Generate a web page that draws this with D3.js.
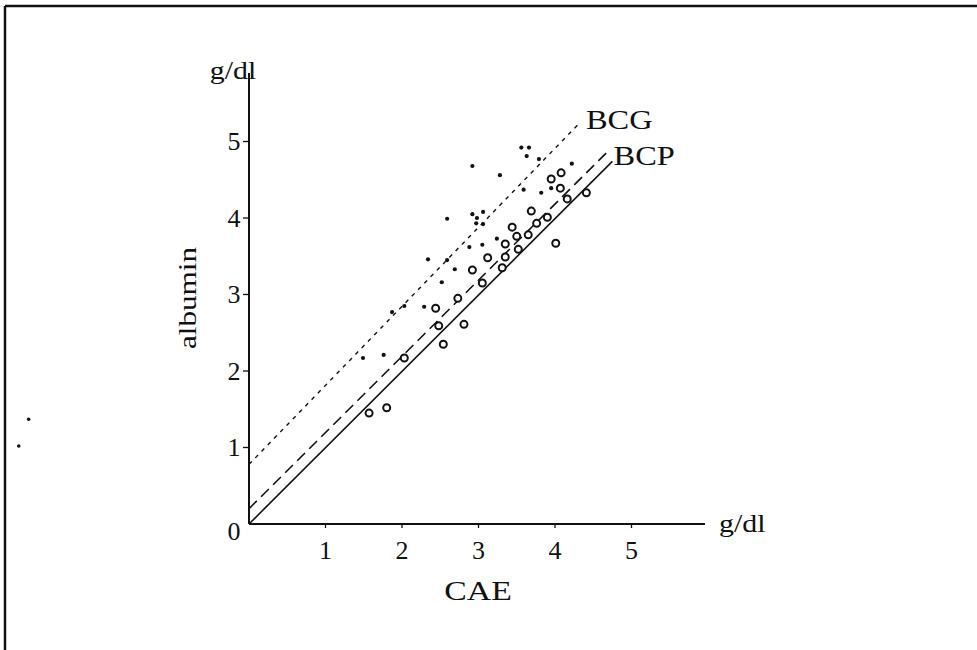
<!DOCTYPE html>
<html>
<head>
<meta charset="utf-8">
<script src="https://cdn.jsdelivr.net/npm/d3@7"></script>
<style>
  body { margin: 0; background: #fff; }
  text { font-family: "Liberation Serif", "DejaVu Serif", serif; fill: #111; }
</style>
</head>
<body>
<svg id="chart" width="977" height="650"></svg>
<script>
// albumin by BCG (filled dots) and BCP (open circles) against CAE, g/dl
var bcgX = [1.49, 1.76, 1.87, 2.03, 2.29, 2.34, 2.59, 2.69, 2.52, 2.59, 2.88, 3.05, 2.92, 3.06,
            2.98, 2.97, 3.06, 2.92, 3.28, 3.24, 3.56, 3.66, 3.63, 3.79, 4.22, 3.59, 3.82, 3.95];
var bcgY = [2.17, 2.21, 2.77, 2.85, 2.84, 3.46, 3.45, 3.33, 3.16, 3.99, 3.62, 3.65, 4.05, 4.08,
            4.00, 3.93, 3.92, 4.68, 4.56, 3.73, 4.92, 4.92, 4.81, 4.77, 4.71, 4.37, 4.33, 4.39];

var bcpX = [1.57, 1.80, 2.03, 2.54, 2.48, 2.44, 2.81, 2.73, 3.05, 2.92, 3.12, 3.31, 3.35, 3.35,
            3.52, 3.50, 3.44, 3.65, 3.69, 3.76, 3.90, 4.01, 4.16, 4.41, 4.07, 3.95, 4.08];
var bcpY = [1.45, 1.52, 2.17, 2.35, 2.59, 2.82, 2.61, 2.95, 3.15, 3.32, 3.48, 3.35, 3.49, 3.66,
            3.59, 3.76, 3.88, 3.78, 4.09, 3.93, 4.01, 3.67, 4.25, 4.33, 4.39, 4.51, 4.59];

// regression lines: [x0, y0, x1, y1]
var lineIdentity = [0, 0, 4.75, 4.74];
var lineBCP = [0, 0.2, 4.7, 4.88];
var lineBCG = [0, 0.78, 4.3, 5.22];

var ticks = [1, 2, 3, 4, 5];
var yTicks = [0, 1, 2, 3, 4, 5];

// specks on the scanned page, in the same units
var specksX = [-2.88, -3.01];
var specksY = [1.37, 1.02];

var svg = d3.select('#chart');

// scan frame (top and left edges)
svg.append('line').attr('x1', 5).attr('y1', 6).attr('x2', 977).attr('y2', 6)
  .attr('stroke', '#111').attr('stroke-width', 2.5);
svg.append('line').attr('x1', 5).attr('y1', 6).attr('x2', 5).attr('y2', 650)
  .attr('stroke', '#111').attr('stroke-width', 2.5);

var x = d3.scaleLinear().domain([0, 5]).range([249, 631.5]);
var y = d3.scaleLinear().domain([0, 5]).range([524, 141.5]);

var g = svg.append('g');

// text centred on (cx, cy), a little wider than the font as in the scan
function label(txt, cx, cy, size, anchor, sx, rot) {
  var t = g.append('text')
    .attr('transform', 'translate(' + cx + ',' + cy + ')' + (rot ? ' rotate(' + rot + ')' : '') + ' scale(' + sx + ',1)')
    .attr('y', size * 0.33)
    .attr('text-anchor', anchor)
    .style('font-size', size + 'px')
    .text(txt);
  return t;
}

// x axis
g.append('line').attr('x1', x(0)).attr('y1', y(0)).attr('x2', 705).attr('y2', y(0))
  .attr('stroke', '#111').attr('stroke-width', 2);
g.selectAll('.xt').data(ticks).enter().append('line')
  .attr('x1', function (d) { return x(d); }).attr('x2', function (d) { return x(d); })
  .attr('y1', y(0)).attr('y2', y(0) + 4)
  .attr('stroke', '#111').attr('stroke-width', 1.3);
ticks.forEach(function (d) { label(d, x(d), 550, 26, 'middle', 1.0); });

// y axis
g.append('line').attr('x1', x(0)).attr('y1', y(0)).attr('x2', x(0)).attr('y2', 73)
  .attr('stroke', '#111').attr('stroke-width', 2);
g.selectAll('.yt').data(yTicks.slice(1)).enter().append('line')
  .attr('x1', x(0) - 6).attr('x2', x(0))
  .attr('y1', function (d) { return y(d); }).attr('y2', function (d) { return y(d); })
  .attr('stroke', '#111').attr('stroke-width', 1.3);
yTicks.forEach(function (d) { label(d, 234, d === 0 ? y(d) + 7 : y(d), 26, 'middle', 1.0); });

// axis titles
label('g/dl', 233, 70, 26, 'middle', 1.15);
label('g/dl', 719, 523, 26, 'start', 1.15);
label('CAE', 478, 591, 27, 'middle', 1.25);
label('albumin', 187, 298, 26, 'middle', 1.2, -90);

// lines
function drawLine(l, dash, w) {
  g.append('line')
    .attr('x1', x(l[0])).attr('y1', y(l[1])).attr('x2', x(l[2])).attr('y2', y(l[3]))
    .attr('stroke', '#111').attr('stroke-width', w)
    .attr('stroke-dasharray', dash);
}
drawLine(lineIdentity, null, 1.6);
drawLine(lineBCP, '11,6', 1.6);
drawLine(lineBCG, '4,5', 1.4);

label('BCG', x(lineBCG[2]) + 8, y(lineBCG[3]) - 5, 27, 'start', 1.2);
label('BCP', x(lineBCP[2]) + 5, y(lineBCP[3]) + 5, 27, 'start', 1.2);

// points
g.selectAll('.bcp').data(bcpX).enter().append('circle')
  .attr('cx', function (d) { return x(d); })
  .attr('cy', function (d, i) { return y(bcpY[i]); })
  .attr('r', 3.5).attr('fill', '#fff').attr('stroke', '#111').attr('stroke-width', 2);

g.selectAll('.bcg').data(bcgX).enter().append('circle')
  .attr('cx', function (d) { return x(d); })
  .attr('cy', function (d, i) { return y(bcgY[i]); })
  .attr('r', 2.1).attr('fill', '#111');

g.selectAll('.speck').data(specksX).enter().append('circle')
  .attr('cx', function (d) { return x(d); })
  .attr('cy', function (d, i) { return y(specksY[i]); })
  .attr('r', 1.8).attr('fill', '#111');
</script>
</body>
</html>
